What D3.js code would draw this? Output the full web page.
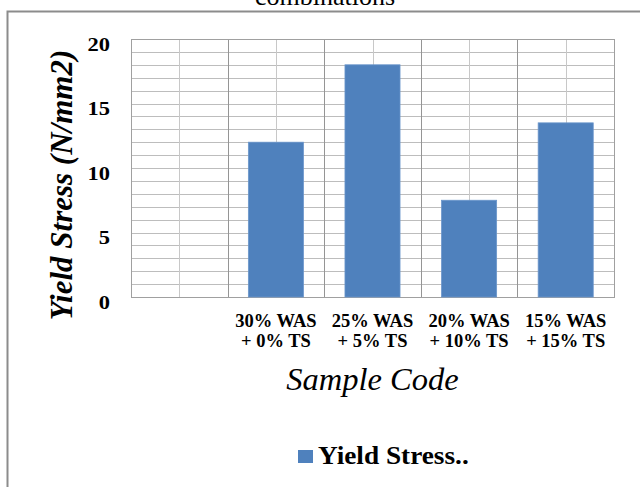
<!DOCTYPE html>
<html>
<head>
<meta charset="utf-8">
<script src="https://cdn.jsdelivr.net/npm/d3@7"></script>
<style>
  html, body { margin: 0; padding: 0; background: #fff; }
  svg { display: block; }
</style>
</head>
<body>
<svg id="chart" width="640" height="487"></svg>
<script>
// Yield stress of each sample mix (first slot is an empty category)
const categories = ["blank", "30% WAS + 0% TS", "25% WAS + 5% TS", "20% WAS + 10% TS", "15% WAS + 15% TS"];
const categoryLines = [[], ["30% WAS", "+ 0% TS"], ["25% WAS", "+ 5% TS"], ["20% WAS", "+ 10% TS"], ["15% WAS", "+ 15% TS"]];
const yieldStress = [null, 12, 18, 7.5, 13.5];
const yTicks = [0, 5, 10, 15, 20];
const seriesName = "Yield Stress..";

const FONT = "'Liberation Serif', Tinos, 'Times New Roman', serif";
const svg = d3.select("#chart");
const plot = { left: 131, right: 614, top: 39, bottom: 297 };

function label(sel) {
  return sel.style("font-family", FONT).attr("fill", "#000");
}

// outer chart frame
svg.append("rect")
  .attr("x", 7.5).attr("y", 11.5)
  .attr("width", 700).attr("height", 520)
  .attr("fill", "#fff")
  .attr("stroke", "#8c8c8c").attr("stroke-width", 2);

// title (last line, partly above the page)
svg.append("text")
  .call(label)
  .attr("x", 325).attr("y", 5)
  .attr("text-anchor", "middle")
  .style("font-size", "26px")
  .text("combinations");

const x = d3.scaleBand()
  .domain(categories)
  .range([plot.left, plot.right])
  .paddingInner(0.43)
  .paddingOuter(0.215);

const y = d3.scaleLinear()
  .domain([0, 20])
  .range([plot.bottom, plot.top]);

const g = svg.append("g");

// horizontal gridlines every unit
g.selectAll("line.hgrid")
  .data(y.ticks(20))
  .join("line")
  .attr("class", "hgrid")
  .attr("x1", plot.left).attr("x2", plot.right)
  .attr("y1", d => Math.round(y(d)) + 0.5).attr("y2", d => Math.round(y(d)) + 0.5)
  .attr("stroke", "#bdbdbd").attr("stroke-width", 1);

// vertical gridlines: category centres (light) and boundaries (dark)
const half = (x.step() - x.bandwidth()) / 2;
g.selectAll("line.vmid")
  .data(categories)
  .join("line")
  .attr("class", "vmid")
  .attr("x1", d => Math.round(x(d) + x.bandwidth() / 2) + 0.5)
  .attr("x2", d => Math.round(x(d) + x.bandwidth() / 2) + 0.5)
  .attr("y1", plot.top).attr("y2", plot.bottom)
  .attr("stroke", "#c8c8c8").attr("stroke-width", 1);

g.selectAll("line.vbound")
  .data(categories.slice(1))
  .join("line")
  .attr("class", "vbound")
  .attr("x1", d => Math.round(x(d) - half) + 0.5)
  .attr("x2", d => Math.round(x(d) - half) + 0.5)
  .attr("y1", plot.top).attr("y2", plot.bottom)
  .attr("stroke", "#959595").attr("stroke-width", 1);

// plot border
g.append("rect")
  .attr("x", plot.left + 0.5).attr("y", plot.top + 0.5)
  .attr("width", plot.right - plot.left).attr("height", plot.bottom - plot.top)
  .attr("fill", "none")
  .attr("stroke", "#a0a0a0").attr("stroke-width", 1);

// bars
g.selectAll("rect.bar")
  .data(categories.map((c, i) => ({ c, v: yieldStress[i] })).filter(d => d.v != null))
  .join("rect")
  .attr("class", "bar")
  .attr("x", d => x(d.c))
  .attr("y", d => y(d.v))
  .attr("width", x.bandwidth())
  .attr("height", d => y(0) - y(d.v))
  .attr("fill", "#4f81bd")
  .attr("stroke", "#6b96cb").attr("stroke-width", 0.8);

// y axis labels (slightly widened glyphs)
const tickStretch = 1.25;
const yAxis = svg.append("g")
  .attr("transform", `translate(${plot.left},0)`)
  .call(d3.axisLeft(y).tickValues(yTicks).tickSize(0).tickPadding(21));
yAxis.select(".domain").remove();
yAxis.selectAll("text")
  .call(label)
  .attr("x", -21 / tickStretch)
  .attr("transform", `scale(${tickStretch},1)`)
  .attr("dy", "0.62em")
  .style("font-weight", "bold")
  .style("font-size", "18px");

// category labels (two lines each)
const catG = svg.append("g");
categories.forEach((c, i) => {
  const cx = x(c) + x.bandwidth() / 2;
  const t = catG.append("text")
    .call(label)
    .attr("x", cx).attr("y", 327)
    .attr("text-anchor", "middle")
    .style("font-weight", "bold")
    .style("font-size", "18.5px");
  categoryLines[i].forEach((line, k) => {
    t.append("tspan").attr("x", cx).attr("dy", k === 0 ? 0 : 19.5).text(line);
  });
});

// axis titles
svg.append("text")
  .call(label)
  .attr("transform", `translate(72,${(plot.top + plot.bottom) / 2 + 17}) rotate(-90)`)
  .attr("text-anchor", "middle")
  .style("font-style", "italic")
  .style("font-weight", "bold")
  .style("font-size", "31px")
  .text("Yield Stress (N/mm2)");

svg.append("text")
  .call(label)
  .attr("x", (plot.left + plot.right) / 2).attr("y", 390)
  .attr("text-anchor", "middle")
  .style("font-style", "italic")
  .style("font-size", "32.5px")
  .text("Sample Code");

// legend
const legend = svg.append("g");
legend.append("rect")
  .attr("x", 298).attr("y", 450)
  .attr("width", 15).attr("height", 13)
  .attr("fill", "#4f81bd");
legend.append("text")
  .call(label)
  .attr("transform", "translate(318,464) scale(1.07,1)")
  .style("font-weight", "bold")
  .style("font-size", "25.5px")
  .text(seriesName);
</script>
</body>
</html>
